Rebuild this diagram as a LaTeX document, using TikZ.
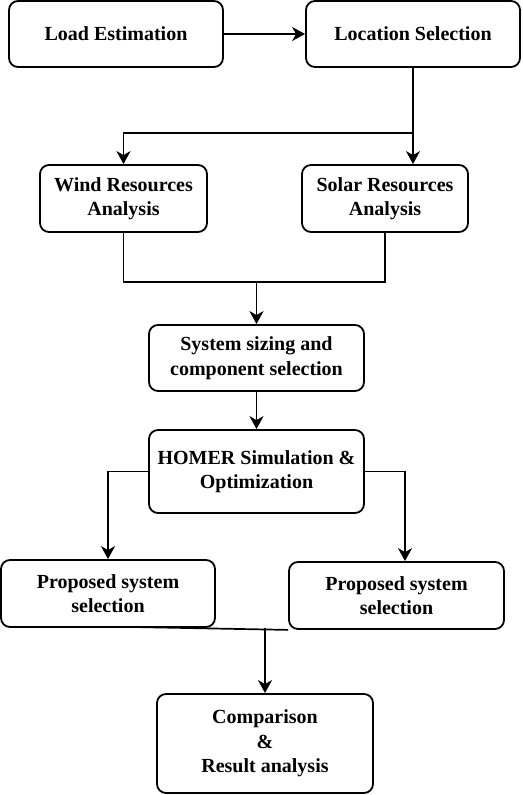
\documentclass[tikz,border=0pt]{standalone}
\usepackage{fontspec}
\setmainfont{Liberation Serif}
\usetikzlibrary{arrows.meta}
\begin{document}
\begin{tikzpicture}[x=1pt,y=-1pt,
  box/.style={draw, line width=1.8pt, rounded corners=9pt, align=center,
    font=\fontsize{20}{24.5}\selectfont\bfseries, inner sep=0pt},
  conn/.style={line width=1.7pt},
  arr/.style={conn, -{Stealth[length=13pt,width=14pt,inset=4pt]}}]
\useasboundingbox (0,0) rectangle (522,795);
\node[box, minimum width=214pt, minimum height=66pt] (load) at (116,34) {Load Estimation};
\node[box, minimum width=214pt, minimum height=66pt] (loc) at (413,34) {Location Selection};
\node[box, minimum width=167pt, minimum height=67pt] (wind) at (123.5,198.5) {Wind Resources\\Analysis};
\node[box, minimum width=166pt, minimum height=67pt] (solar) at (385,198.5) {Solar Resources\\Analysis};
\node[box, minimum width=215pt, minimum height=66pt] (sys) at (256.5,358) {System sizing and\\component selection};
\node[box, minimum width=215pt, minimum height=83pt] (homer) at (256.5,471.5) {HOMER Simulation \&\\Optimization};
\node[box, minimum width=214pt, minimum height=67pt] (p1) at (108,593.5) {Proposed system\\selection};
\node[box, minimum width=215pt, minimum height=67pt] (p2) at (396.5,595.5) {Proposed system\\selection};
\node[box, minimum width=216pt, minimum height=99pt] (comp) at (265,743.5) {Comparison\\\&\\Result analysis};
\coordinate (j1) at (413,133);
\coordinate (j2) at (256.5,282);
\coordinate (ja) at (405,472);
\coordinate (jb) at (133,627);
\coordinate (jc) at (265,628);
\draw[arr] (load.east) -- (loc.west);
\draw[conn] (loc.south) -- (j1);
\draw[arr] (j1) -| (wind.north);
\draw[arr] (j1) -- (j1 |- solar.north);
\draw[conn] (wind.south) |- (j2) -| (solar.south);
\draw[arr] (j2) -- (sys.north);
\draw[arr] (sys.south) -- (homer.north);
\draw[arr] (homer.west) -| (p1.north);
\draw[arr] (homer.east) -| (ja |- p2.north);
\draw[conn] (jb) -- (p2.south west);
\draw[arr] (jc) -- (comp.north);
\end{tikzpicture}
\end{document}
